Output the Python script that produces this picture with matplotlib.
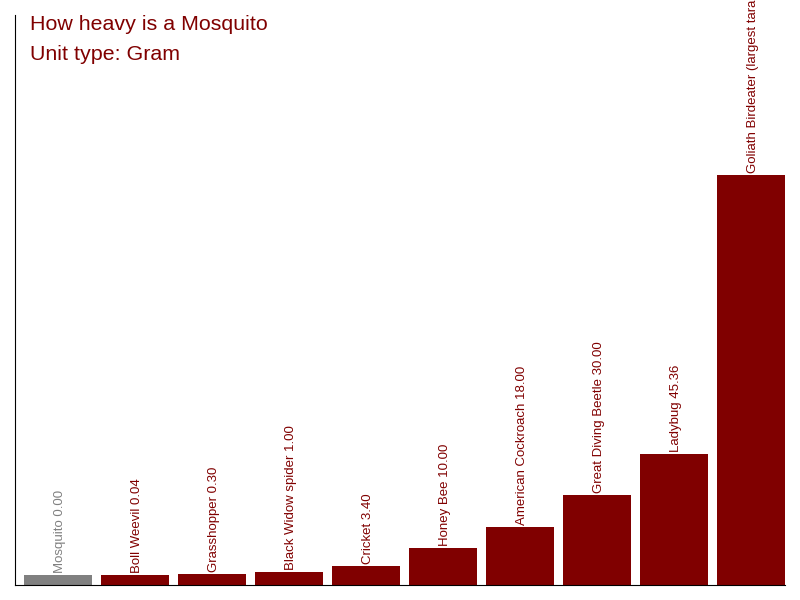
import matplotlib.pyplot as plt

# === data ===
names = ["Mosquito", "Boll Weevil", "Grasshopper", "Black Widow spider", "Cricket",
         "Honey Bee", "American Cockroach", "Great Diving Beetle", "Ladybug",
         "Goliath Birdeater (largest tarantula)"]
weights = [0.00, 0.04, 0.30, 1.00, 3.40, 10.00, 18.00, 30.00, 45.36, 150.00]
highlight = "Mosquito"

# === Plotting ===
plt.rcParams["font.family"] = ["Liberation Sans", "DejaVu Sans"]
fig = plt.figure(figsize=(8, 6), dpi=100)
ax = fig.add_axes([15 / 800, 15 / 600, 770 / 800, 570 / 600])

ymin, ymax = -3.75, 209.8
ax.set_ylim(ymin, ymax)
ax.set_xlim(0, len(names))

gap, width = 9 / 77, 68 / 77
for i, (name, w) in enumerate(zip(names, weights)):
    color = "#808080" if name == highlight else "#800000"
    ax.bar(i + gap, w - ymin, bottom=ymin, width=width, align="edge", color=color)
    ax.text(i + gap + width / 2 + 0.02, w + 0.7, f"{name} {w:.2f}", rotation=90,
            ha="center", va="bottom", fontsize=9.5, color=color, clip_on=False)

for side in ["top", "right"]:
    ax.spines[side].set_visible(False)
ax.spines["left"].set_color("black")
ax.spines["bottom"].set_color("black")
ax.set_xticks([])
ax.set_yticks([])

fig.text(30 / 800, 1 - 30 / 600, "How heavy is a Mosquito", fontsize=15.4,
         color="#800000", va="baseline")
fig.text(30 / 800, 1 - 60 / 600, "Unit type: Gram", fontsize=15.4,
         color="#800000", va="baseline")

plt.savefig("out.png")
